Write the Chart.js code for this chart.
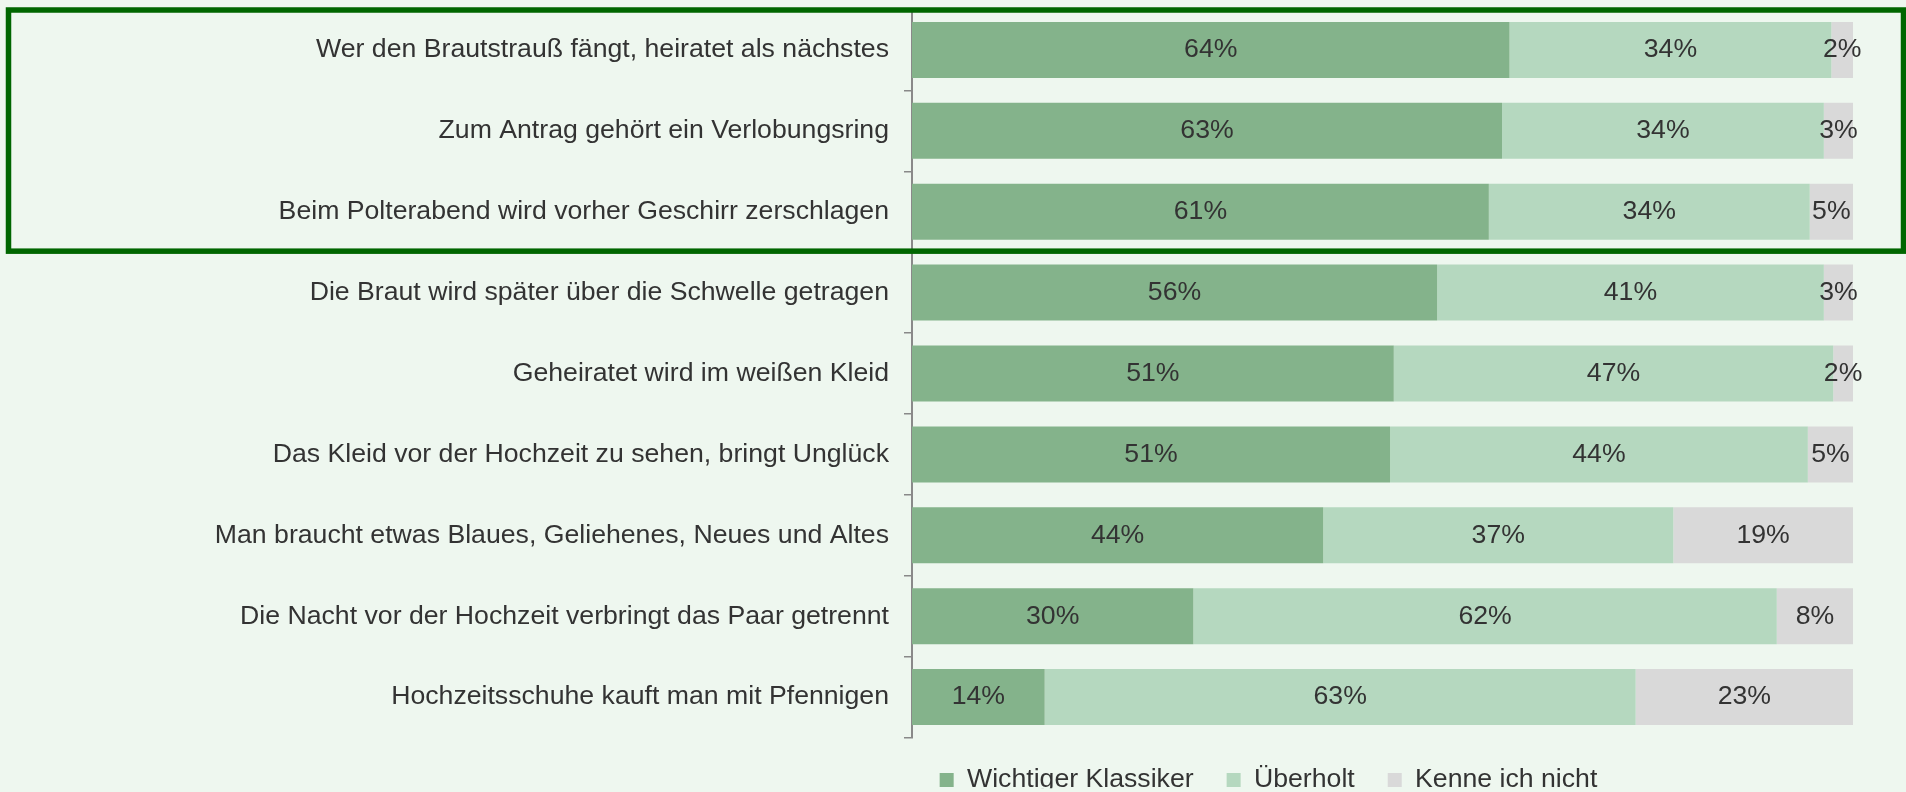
<!DOCTYPE html>
<html>
<head>
<meta charset="utf-8">
<script src="https://cdn.jsdelivr.net/npm/chart.js@4/dist/chart.umd.min.js"></script>
<style>
  html, body { margin: 0; padding: 0; background: #EEF7EF; overflow: hidden; }
  canvas { display: block; }
</style>
</head>
<body>
<canvas id="c" width="1906" height="792"></canvas>
<script>
// ---- data ----
const categories = [
  "Wer den Brautstrauß fängt, heiratet als nächstes",
  "Zum Antrag gehört ein Verlobungsring",
  "Beim Polterabend wird vorher Geschirr zerschlagen",
  "Die Braut wird später über die Schwelle getragen",
  "Geheiratet wird im weißen Kleid",
  "Das Kleid vor der Hochzeit zu sehen, bringt Unglück",
  "Man braucht etwas Blaues, Geliehenes, Neues und Altes",
  "Die Nacht vor der Hochzeit verbringt das Paar getrennt",
  "Hochzeitsschuhe kauft man mit Pfennigen"
];
const seriesNames = ["Wichtiger Klassiker", "Überholt", "Kenne ich nicht"];
const klassiker = [63.5, 62.7, 61.3, 55.8, 51.2, 50.8, 43.7, 29.9, 14.1];
const ueberholt = [34.2, 34.2, 34.1, 41.1, 46.7, 44.4, 37.2, 62.0, 62.8];
const kenneNicht = [2.3, 3.1, 4.6, 3.1, 2.1, 4.8, 19.1, 8.1, 23.1];
const highlightedCount = 3;

// ---- styles ----
const FONT = "'Liberation Sans', Arial, Helvetica, sans-serif";
const FS = 26.67;
const TEXT = '#333333';
const BG = '#EEF7EF';
const colors = ['#84B38B', '#B5D8BF', '#D9D9D9'];

Chart.defaults.font.family = FONT;
Chart.defaults.font.size = FS;
Chart.defaults.color = TEXT;

const bgPlugin = {
  id: 'bg',
  beforeDraw(chart) {
    const ctx = chart.ctx;
    ctx.save();
    ctx.fillStyle = BG;
    ctx.fillRect(0, 0, chart.width, chart.height);
    ctx.restore();
  }
};

const segmentLabels = {
  id: 'segmentLabels',
  afterDatasetsDraw(chart) {
    const ctx = chart.ctx;
    ctx.save();
    ctx.font = FS + 'px ' + FONT;
    ctx.fillStyle = TEXT;
    ctx.textAlign = 'center';
    ctx.textBaseline = 'middle';
    chart.data.datasets.forEach((ds, di) => {
      const meta = chart.getDatasetMeta(di);
      meta.data.forEach((bar, i) => {
        const p = bar.getProps(['x', 'y', 'base'], true);
        ctx.fillText(Math.round(ds.data[i]) + '%', (p.x + p.base) / 2, p.y);
      });
    });
    ctx.restore();
  }
};

const legendPlace = {
  id: 'legendPlace',
  afterLayout(chart) {
    const lg = chart.legend;
    if (!lg) return;
    const w = lg.right - lg.left;
    const h = lg.bottom - lg.top;
    const cx = 1268.5;
    const pad = lg.options.labels.padding;
    const top = 780 - pad - FS / 2;
    lg.left = cx - w / 2; lg.right = cx + w / 2;
    lg.top = top; lg.bottom = top + h;
  }
};

const frame = {
  id: 'frame',
  afterDraw(chart) {
    const ctx = chart.ctx;
    const ys = chart.scales.y;
    const top = chart.chartArea.top + 0.5;
    const bottom = (ys.getPixelForValue(highlightedCount - 1) + ys.getPixelForValue(highlightedCount)) / 2 - 1;
    ctx.save();
    ctx.strokeStyle = '#006600';
    ctx.lineWidth = 5.5;
    ctx.strokeRect(8.5, top, 1903.5 - 8.5, bottom - top);
    ctx.restore();
  }
};

new Chart(document.getElementById('c'), {
  type: 'bar',
  data: {
    labels: categories,
    datasets: [
      { label: seriesNames[0], data: klassiker, backgroundColor: colors[0] },
      { label: seriesNames[1], data: ueberholt, backgroundColor: colors[1] },
      { label: seriesNames[2], data: kenneNicht, backgroundColor: colors[2] }
    ]
  },
  options: {
    indexAxis: 'y',
    responsive: false,
    devicePixelRatio: 1,
    animation: false,
    datasets: { bar: { barPercentage: 0.692, categoryPercentage: 1, borderWidth: 0 } },
    layout: { autoPadding: false, padding: { left: 0, right: 53, top: 9.5, bottom: 0 } },
    scales: {
      x: { type: 'linear', stacked: true, min: 0, max: 100, display: false },
      y: {
        stacked: true,
        afterFit(scale) { scale.width = 912; scale.paddingTop = 0; scale.paddingBottom = 0; },
        border: { display: true, color: '#898989', width: 2 },
        grid: { display: true, drawOnChartArea: false, drawTicks: true, tickLength: 8, color: '#898989', lineWidth: 1.5, offset: true },
        ticks: { padding: 15, color: TEXT, font: { size: FS, family: FONT } }
      }
    },
    plugins: {
      tooltip: { enabled: false },
      legend: {
        display: true,
        position: 'bottom',
        maxHeight: 792 - 737.5,
        labels: { boxWidth: 14, boxHeight: 14, padding: 33, color: TEXT, font: { size: FS, family: FONT } }
      }
    }
  },
  plugins: [bgPlugin, segmentLabels, legendPlace, frame]
});
</script>
</body>
</html>
